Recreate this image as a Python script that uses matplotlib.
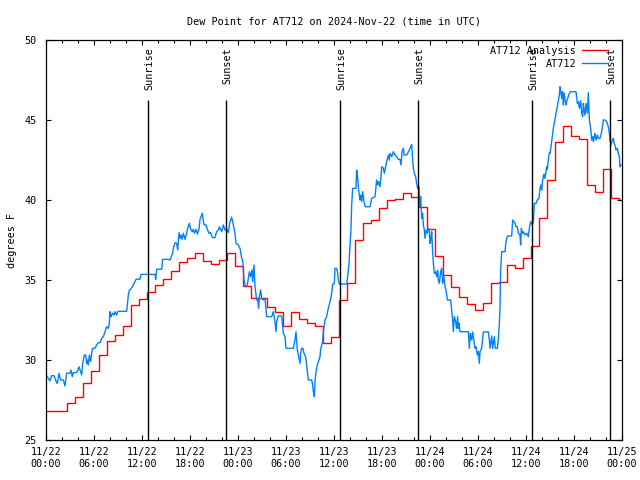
import numpy as np
import matplotlib
matplotlib.use('Agg')
import matplotlib.pyplot as plt

# hours since 2024-11-22 00:00 UTC
tick_hours = [0, 6, 12, 18, 24, 30, 36, 42, 48, 54, 60, 66, 72]
tick_labels = ['11/22\n00:00', '11/22\n06:00', '11/22\n12:00', '11/22\n18:00',
               '11/23\n00:00', '11/23\n06:00', '11/23\n12:00', '11/23\n18:00',
               '11/24\n00:00', '11/24\n06:00', '11/24\n12:00', '11/24\n18:00',
               '11/25\n00:00']

sun_hours = [12.75, 22.5, 36.75, 46.5, 60.75, 70.5]
sun_names = ['Sunrise', 'Sunset', 'Sunrise', 'Sunset', 'Sunrise', 'Sunset']

# hourly analysis, each value valid from 35 min past the hour before
red_start = -0.42
red_vals = [26.81, 26.81, 26.81, 27.29, 27.67, 28.54, 29.3, 30.31, 31.21, 31.56,
            32.13, 33.42, 33.81, 34.23, 34.67, 35.04, 35.56, 36.13, 36.4, 36.67,
            36.21, 36.0, 36.23, 36.67, 35.9, 34.63, 33.9, 33.9, 33.3, 33.0,
            32.13, 32.98, 32.54, 32.29, 32.15, 31.08, 31.42, 33.73, 34.79, 37.5,
            38.54, 38.75, 39.48, 40.0, 40.04, 40.42, 40.17, 39.54, 38.2, 36.5,
            35.31, 34.54, 33.94, 33.5, 33.125, 33.54, 34.79, 34.85, 35.96, 35.75,
            36.35, 37.15, 38.85, 41.25, 43.65, 44.6, 44.0, 43.8, 40.94, 40.52,
            41.92, 40.15, 40.0]

# station observations
blue_hours = [
    0.0, 0.08, 0.5, 0.71, 1.0, 1.125, 1.33, 1.42, 1.625, 1.83, 2.17, 2.375, 2.5, 2.58,
    3.0, 3.125, 3.29, 3.42, 3.75, 3.92, 4.125, 4.33, 4.46, 4.58, 4.79, 4.96, 5.08, 5.21,
    5.29, 5.42, 5.58, 5.71, 5.83, 6.125, 6.33, 6.54, 6.75, 6.96, 7.17, 7.375, 7.58, 7.79,
    7.92, 8.0, 8.125, 8.21, 8.33, 8.5, 8.625, 8.83, 8.96, 9.04, 10.08, 10.17, 10.29,
    10.42, 10.58, 10.75, 10.92, 11.125, 11.25, 11.75, 11.875, 13.625, 13.71, 13.83,
    14.46, 14.58, 15.29,
    15.5, 15.83, 15.92, 16.125, 16.33, 16.46, 16.625, 16.75, 16.875, 17.0, 17.17, 17.375,
    17.58, 17.67, 17.92, 18.08, 18.29, 18.42, 18.54, 18.75, 18.92, 19.125, 19.25, 19.375,
    19.54, 19.67, 19.79, 20.0, 20.17, 20.375, 20.58, 20.79, 21.125, 21.33, 21.54, 21.67,
    21.96, 22.17, 22.375, 22.58, 22.79, 23.0, 23.21, 23.42, 23.625, 23.75, 24.04, 24.25,
    24.46, 24.58, 24.67, 24.75, 24.96, 25.17, 25.29, 25.42, 25.58, 25.75, 25.83, 26.0,
    26.125, 26.33, 26.46, 26.58, 26.67, 26.83, 26.96, 27.17, 27.375, 27.58, 28.21, 28.42,
    28.625, 28.75, 28.83, 29.04, 29.46, 29.67, 29.875, 30.0,
    30.08, 30.92, 31.125, 31.25, 31.42, 31.54, 31.75, 31.83, 31.96, 32.1, 32.25, 32.45,
    32.58, 32.79, 33.21, 33.33, 33.42, 33.54, 33.625, 33.75, 33.92, 34.25, 34.33, 34.58,
    34.67, 34.875, 35.08, 35.29, 35.5, 35.71, 35.83, 36.04, 36.125, 36.33, 36.46, 36.54,
    36.67, 37.58, 37.71, 37.875, 38.0, 38.125, 38.21, 38.33, 38.75, 38.83, 38.96, 39.08,
    39.25, 39.33, 39.46, 39.58, 39.75, 39.92, 40.5, 40.71, 41.125, 41.25, 41.33, 41.46,
    41.58, 41.75, 41.875, 41.96, 42.17, 42.29, 42.42, 42.58, 42.79, 42.92, 43.0,
    43.21, 43.42, 43.625, 43.83, 44.04, 44.25, 44.375, 44.5, 44.67, 44.75, 45.08, 45.42,
    45.58, 45.71, 45.83, 45.92, 46.04, 46.21, 46.33, 46.46, 46.625, 46.75, 46.83, 46.96,
    47.08, 47.17, 47.29, 47.375, 47.5, 47.67, 47.79, 47.92, 48.0, 48.125, 48.21, 48.33,
    48.42, 48.54, 48.71, 48.83, 48.96, 49.04, 49.17, 49.33, 49.46, 49.58, 49.75, 49.875,
    50.0, 50.17, 50.58, 50.71, 50.83, 50.92, 51.04, 51.21, 51.33, 51.46, 51.54, 51.625,
    51.75, 52.79, 52.92, 53.04, 53.21, 53.33, 53.5, 53.625, 53.75, 53.92, 54.04, 54.17,
    54.25, 54.46, 54.67, 55.29, 55.42, 55.5, 55.71, 55.83, 56.04, 56.17, 56.42, 56.54,
    56.67, 56.75, 56.83, 56.96, 57.375, 57.5, 57.67,
    58.21, 58.33, 58.625, 58.75, 58.92, 59.04, 59.25, 59.33, 59.42, 59.54, 59.67, 59.875,
    60.08, 60.29, 60.42, 60.58, 60.79, 60.92, 61.04, 61.25, 61.42, 61.625, 61.75, 61.875,
    61.96, 62.08, 62.25, 62.375, 62.58, 62.67, 62.79, 62.92, 63.0, 63.125, 63.29, 63.42,
    63.625, 63.83, 64.04, 64.17, 64.25, 64.33, 64.46, 64.58, 64.67, 64.75, 64.875, 65.0,
    65.08, 65.29, 65.42, 65.58, 66.25, 66.42, 66.54, 66.67, 66.83, 66.96, 67.08, 67.17,
    67.25, 67.375, 67.5, 67.58, 67.67, 67.79, 67.92, 68.08, 68.21, 68.33, 68.42, 68.54,
    68.625, 68.75, 68.92, 69.04, 69.25, 69.46, 69.67, 69.875, 70.08, 70.29, 70.42, 70.5,
    70.625, 70.79, 70.92, 71.0, 71.125, 71.25, 71.42, 71.54, 71.67, 71.75, 71.875]
blue_vals = [
    29.02, 29.02, 28.69, 29.02, 29.02, 28.85, 28.58, 28.54, 29.17, 28.75, 28.75, 28.375, 28.85, 29.17,
    29.17, 29.375, 28.96, 29.21, 29.21, 29.27, 29.58, 29.27, 29.06, 29.79, 30.31, 30.31, 29.79, 30.0,
    29.69, 30.31, 29.9, 30.42, 30.73, 30.73, 30.94, 31.08, 31.08, 31.35, 31.46, 31.77, 32.08, 31.98,
    32.29, 33.02, 32.71, 32.81, 32.92, 32.81, 33.02, 32.81, 33.02, 33.04, 33.04, 33.44, 34.06,
    34.375, 34.42, 34.54, 34.69, 34.9, 35.04, 35.06, 35.35, 35.35, 35.04, 35.67,
    35.67, 36.29, 36.29,
    36.25, 36.67, 36.98, 37.33, 37.29, 36.875, 37.96, 37.6, 37.81, 37.54, 37.92, 37.54,
    37.92, 38.17, 38.54, 38.17, 38.02, 38.17, 37.92, 38.17, 37.875, 38.17, 38.79, 38.96,
    39.17, 38.65, 38.44, 38.44, 38.17, 37.92, 37.96, 37.65, 37.65, 38.02, 38.125, 38.33,
    38.02, 38.44, 38.125, 38.17, 37.96, 38.65, 38.92, 38.44, 37.92, 37.29, 37.19, 36.98,
    36.35, 36.25, 35.625, 35.0, 34.58, 34.69, 35.1, 35.52, 35.21, 35.625, 34.9, 35.94,
    34.58, 33.75, 33.85, 33.23, 33.96, 34.375, 33.85, 33.75, 33.85, 32.71, 32.71, 33.02,
    32.4, 31.77, 32.4, 32.75, 32.75, 31.67, 31.46, 30.73,
    30.73, 30.73, 31.25, 31.77, 30.625, 30.31, 29.79, 30.42, 30.73, 30.73, 30.42, 30.21,
    29.69, 28.75, 28.75, 28.44, 28.02, 27.71, 28.65, 29.27, 29.69, 30.21, 30.67, 31.15,
    31.77, 32.5, 32.71, 33.23, 33.65, 34.17, 34.73, 34.79, 35.73, 35.73, 35.42, 35.0,
    34.75, 34.75, 35.21, 36.04, 37.08, 38.23, 39.69, 40.73, 40.73, 41.875, 41.35, 40.625,
    40.0, 40.31, 39.9, 40.52, 39.9, 39.58, 39.58, 40.1, 40.21, 40.83, 41.25, 40.94,
    41.15, 40.83, 41.46, 42.08, 41.98, 41.67, 41.98, 42.4, 42.81, 42.5, 42.92,
    42.71, 43.02, 42.81, 42.71, 42.54, 42.54, 42.19, 43.02, 43.23, 42.81, 42.81, 43.125,
    43.33, 43.48, 42.54, 41.98, 41.67, 41.46, 41.04, 40.73, 40.83, 39.58, 40.21, 38.85,
    39.17, 38.44, 38.125, 37.6, 38.125, 37.92, 38.23, 38.125, 37.29, 37.6, 38.02, 36.77,
    36.04, 35.42, 35.52, 35.21, 35.625, 35.0, 34.79, 35.52, 35.73, 34.79, 35.21, 34.58,
    34.375, 33.75, 33.75, 33.125, 32.5, 31.77, 32.71, 32.4, 31.98, 32.71, 31.98, 32.29,
    31.77, 31.77, 30.73, 31.67, 31.25, 31.75, 31.15, 30.73, 30.83, 30.31, 30.52, 29.79,
    30.52, 30.73, 31.75, 31.75, 31.25, 30.73, 31.5, 30.73, 31.46, 30.73, 30.73, 31.25,
    32.29, 33.33, 35.625, 36.77, 36.77, 37.4, 37.75,
    37.75, 38.75, 38.54, 38.33, 38.33, 37.92, 37.81, 37.19, 38.23, 37.92, 38.02, 37.81,
    37.92, 37.71, 38.23, 38.65, 38.44, 38.65, 39.79, 39.79, 40.0, 40.1, 40.73, 40.94,
    40.625, 41.25, 41.625, 41.35, 42.08, 41.92, 42.5, 42.96, 42.92, 43.33, 43.96, 44.48,
    45.04, 45.625, 46.15, 46.56, 47.08, 46.875, 46.35, 46.77, 45.94, 46.67, 46.25, 45.94,
    46.15, 46.46, 46.67, 46.77, 46.77, 46.04, 46.15, 45.73, 46.21, 45.42, 45.21, 46.04,
    45.67, 45.31, 46.04, 45.73, 45.42, 46.71, 45.0, 44.48, 43.75, 43.96, 43.65, 43.96,
    44.17, 43.75, 44.06, 43.85, 43.85, 44.27, 45.0, 45.0, 44.9, 44.58, 44.17, 43.75,
    43.44, 43.75, 43.85, 43.54, 43.44, 43.125, 43.23, 42.92, 42.71, 42.08, 42.2]

plt.rcParams['font.family'] = 'DejaVu Sans Mono'
plt.rcParams['font.size'] = 7.3

fig = plt.figure(figsize=(6.4, 4.8), dpi=100)
ax = fig.add_axes([46 / 640, 40 / 480, 576 / 640, 400 / 480])

red_edges = red_start + np.arange(len(red_vals) + 1)
ax.stairs(red_vals, red_edges, baseline=None, color='#ff0000', lw=1.0, label='AT712 Analysis')
ax.plot(blue_hours, blue_vals, color='#0080ff', lw=1.0, label='AT712')

for t, name in zip(sun_hours, sun_names):
    ax.vlines(t, 25, 46.25, color='black', lw=1.0)
    ax.text(t + 0.2, 49.55, name, rotation=90, ha='center', va='top')

ax.set_xlim(0, 72)
ax.set_ylim(25, 50)
ax.set_xticks(tick_hours)
ax.set_xticklabels(tick_labels)
ax.set_xticks([h for h in range(0, 73, 2) if h % 6], minor=True)
ax.set_yticks([25, 30, 35, 40, 45, 50])
ax.tick_params(direction='in', top=True, right=True, width=0.8, which='both')
ax.tick_params(which='major', length=3.6)
ax.tick_params(which='minor', length=2.0)
ax.tick_params(axis='x', which='both', pad=5)
ax.tick_params(axis='y', pad=7)
for s in ax.spines.values():
    s.set_linewidth(0.9)

ax.set_ylabel('degrees F')
ax.yaxis.set_label_coords(-0.05, 0.5)
ax.set_title('Dew Point for AT712 on 2024-Nov-22 (time in UTC)', fontsize=7.3, pad=11.5)

ax.legend(loc='upper right', bbox_to_anchor=(1 - 8 / 576, 1), frameon=False,
          markerfirst=False, handlelength=2.6, handletextpad=0.6, labelspacing=0.3,
          borderpad=0.2, borderaxespad=0.35)

fig.savefig('out.png', dpi=100)
